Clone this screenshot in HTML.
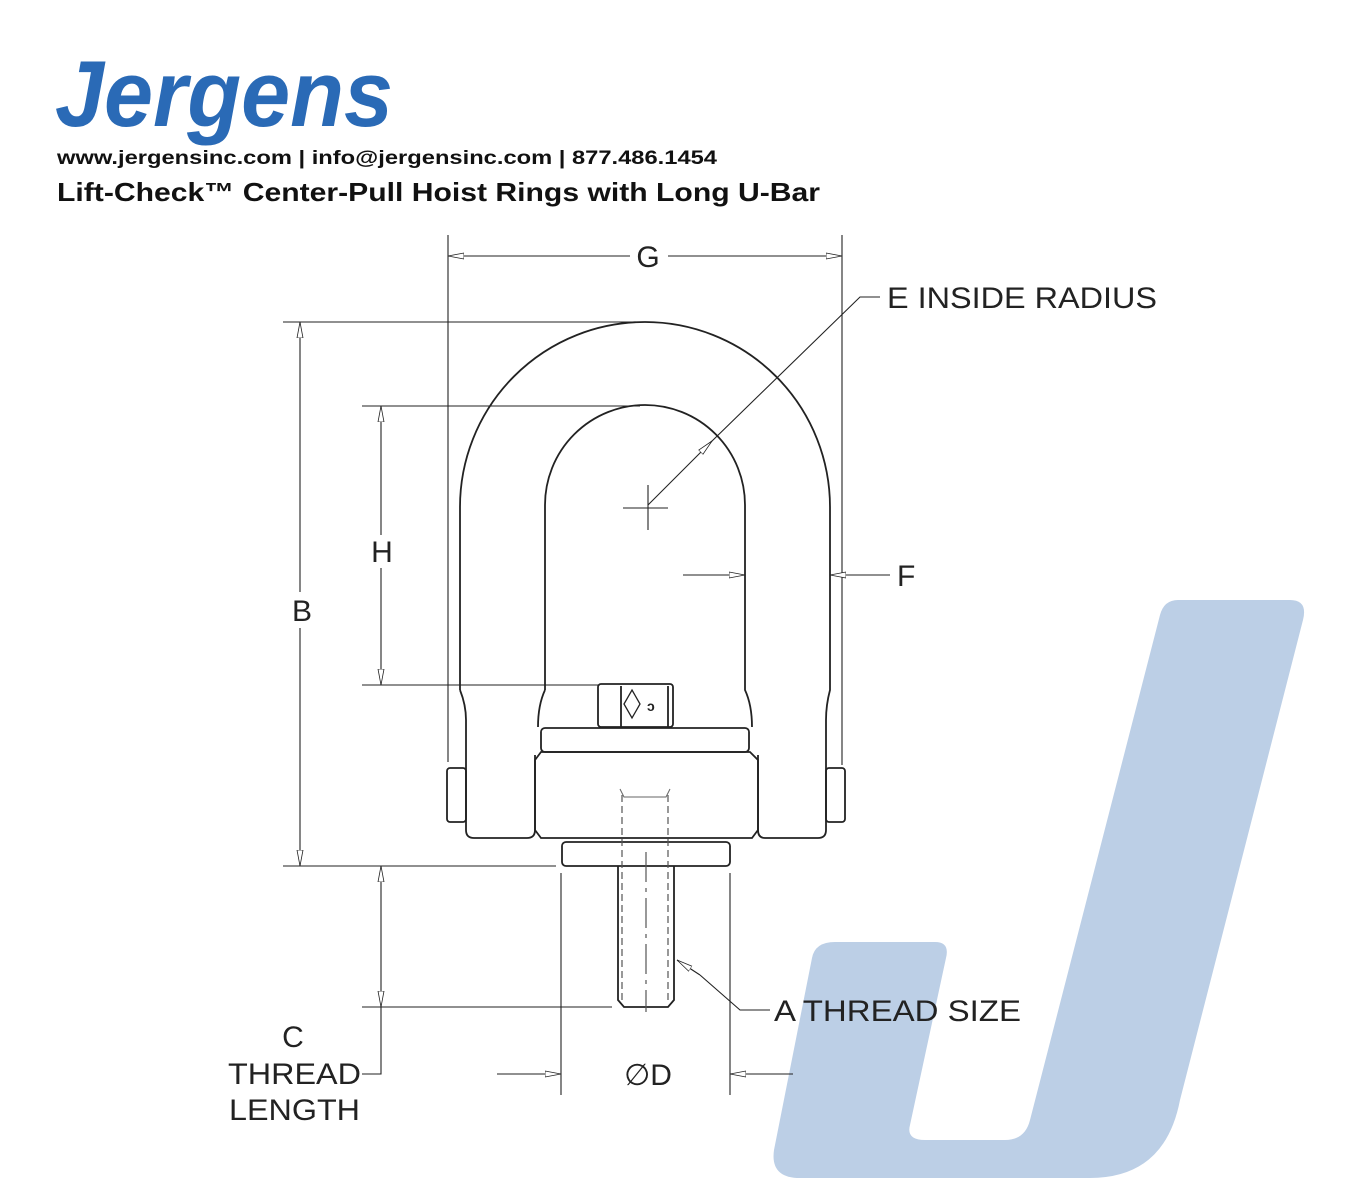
<!DOCTYPE html>
<html><head><style>
html,body{margin:0;padding:0;background:#fff;}
svg{display:block;}
text{font-family:"Liberation Sans",sans-serif;}
</style></head><body>
<svg width="1360" height="1200" viewBox="0 0 1360 1200" xmlns="http://www.w3.org/2000/svg">
<defs>
<marker id="ar" viewBox="0 0 16 8" refX="16" refY="4" markerWidth="16" markerHeight="8" orient="auto" markerUnits="userSpaceOnUse">
<path d="M0,1 L16,4 L0,7 Z" fill="#fff" stroke="#222" stroke-width="0.8"/>
</marker>
</defs>
<path d="M1178,600 L1290,600 Q1308,600 1303,620 L1180,1100 Q1165,1178 1090,1178 L800,1178 Q770,1178 774,1150 L812,958 Q815,942 835,942 L935,942 Q950,942 946,958 L910,1125 Q906,1140 925,1140 L1005,1140 Q1025,1140 1030,1120 L1160,615 Q1164,600 1178,600 Z" fill="#bccfe6"/>
<text x="55" y="126" font-size="94" font-weight="bold" font-style="italic" fill="#2a6ab6" textLength="338" lengthAdjust="spacingAndGlyphs">Jergens</text>
<text x="57" y="164" font-size="19" font-weight="bold" fill="#111" textLength="660" lengthAdjust="spacingAndGlyphs">www.jergensinc.com | info@jergensinc.com | 877.486.1454</text>
<text x="57" y="201" font-size="26" font-weight="bold" fill="#111" textLength="763" lengthAdjust="spacingAndGlyphs">Lift-Check™ Center-Pull Hoist Rings with Long U-Bar</text>

<g fill="none" stroke="#222" stroke-width="1.8">
<path d="M460,690 L460,507 A185,185 0 0 1 830,507 L830,690 Q826,705 826,720 L826,830 Q826,838 818,838 L765,838 Q758,838 758,830 L758,755"/>
<path d="M460,690 Q466,705 466,720 L466,830 Q466,838 474,838 L527,838 Q535,838 535,830 L535,755"/>
<path d="M545,690 L545,505 A100,100 0 0 1 745,505 L745,690 Q752,705 752,727"/>
<path d="M545,690 Q538,705 538,727"/>
<rect x="447" y="768" width="19" height="54" rx="3"/>
<rect x="826" y="768" width="19" height="54" rx="3"/>
<rect x="598" y="684" width="75" height="43" rx="3"/>
<line x1="621" y1="686" x2="621" y2="727"/><line x1="668" y1="686" x2="668" y2="727"/>
<rect x="541" y="728" width="208" height="24" rx="4"/>
<path d="M535,760 L541,752 L750,752 L758,760 L758,830 L752,838 L541,838 L535,830 Z"/>
<rect x="562" y="842" width="168" height="24" rx="4"/>
<path d="M618,866 L618,1000 L624,1007 L668,1007 L674,1000 L674,866"/>
</g>
<g fill="none" stroke="#555" stroke-width="1.2" stroke-dasharray="7,4">
<line x1="622" y1="795" x2="622" y2="1003"/><line x1="668" y1="795" x2="668" y2="1003"/>
<line x1="646" y1="852" x2="646" y2="1012" stroke-dasharray="30,6,4,6"/>
</g>
<path d="M620,789 L624,797 L666,797 L670,789" fill="none" stroke="#666" stroke-width="1"/>
<path d="M632,690 L640,704 L632,718 L624,704 Z" fill="none" stroke="#222" stroke-width="1.3"/>
<text x="647" y="711" font-size="14" font-weight="bold" fill="#222">ↄ</text>

<g stroke="#222" stroke-width="1.1" fill="none">
<line x1="448" y1="235" x2="448" y2="762"/><line x1="842" y1="235" x2="842" y2="765"/>
<line x1="630" y1="256" x2="448" y2="256" marker-end="url(#ar)"/>
<line x1="668" y1="256" x2="842" y2="256" marker-end="url(#ar)"/>
<line x1="283" y1="322" x2="640" y2="322"/><line x1="283" y1="866" x2="556" y2="866"/>
<line x1="300" y1="592" x2="300" y2="322" marker-end="url(#ar)"/>
<line x1="300" y1="628" x2="300" y2="866" marker-end="url(#ar)"/>
<line x1="362" y1="406" x2="640" y2="406"/><line x1="362" y1="685" x2="598" y2="685"/>
<line x1="381" y1="535" x2="381" y2="406" marker-end="url(#ar)"/>
<line x1="381" y1="568" x2="381" y2="685" marker-end="url(#ar)"/>
<line x1="362" y1="1007" x2="612" y2="1007"/>
<line x1="381" y1="940" x2="381" y2="866" marker-end="url(#ar)"/>
<line x1="381" y1="940" x2="381" y2="1007" marker-end="url(#ar)"/>
<polyline points="381,1007 381,1074 362,1074"/>
<line x1="561" y1="873" x2="561" y2="1095"/><line x1="730" y1="873" x2="730" y2="1095"/>
<line x1="497" y1="1074" x2="561" y2="1074" marker-end="url(#ar)"/>
<line x1="793" y1="1074" x2="730" y2="1074" marker-end="url(#ar)"/>
<line x1="683" y1="575" x2="745" y2="575" marker-end="url(#ar)"/>
<line x1="890" y1="575" x2="830" y2="575" marker-end="url(#ar)"/>
<polyline points="880,297 860,297 710,443"/>
<line x1="710" y1="443" x2="648" y2="505"/>
<line x1="710" y1="443" x2="712" y2="441" marker-end="url(#ar)"/>
<line x1="623" y1="508" x2="668" y2="508"/><line x1="648" y1="485" x2="648" y2="530"/>
<polyline points="770,1010 740,1010 700,975"/>
<line x1="700" y1="975" x2="677" y2="960" marker-end="url(#ar)"/>
</g>
<g font-size="30" fill="#222">
<text x="648" y="267" text-anchor="middle">G</text>
<text x="887" y="308" textLength="270" lengthAdjust="spacingAndGlyphs">E INSIDE RADIUS</text>
<text x="897" y="586">F</text>
<text x="302" y="621" text-anchor="middle">B</text>
<text x="382" y="562" text-anchor="middle">H</text>
<text x="293" y="1047" text-anchor="middle">C</text>
<text x="228" y="1084" textLength="133" lengthAdjust="spacingAndGlyphs">THREAD</text>
<text x="229" y="1120" textLength="131" lengthAdjust="spacingAndGlyphs">LENGTH</text>
<text x="648" y="1085" text-anchor="middle">∅D</text>
<text x="774" y="1021" textLength="247" lengthAdjust="spacingAndGlyphs">A THREAD SIZE</text>
</g>
</svg>
</body></html>
